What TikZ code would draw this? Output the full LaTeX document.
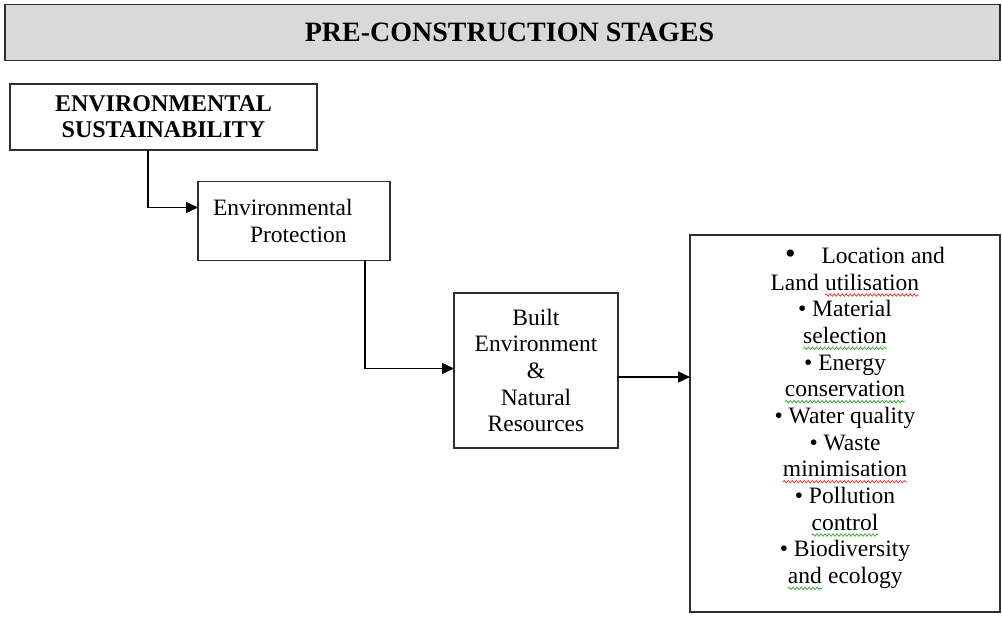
\documentclass[tikz,border=0pt]{standalone}
\usepackage{fontspec}
\setmainfont{Liberation Serif}
\usetikzlibrary{arrows.meta,calc,decorations.pathmorphing}
\definecolor{boxline}{HTML}{2E2E2E}
\definecolor{titlefill}{HTML}{D9D9D9}
\definecolor{spellred}{HTML}{E83C3C}
\definecolor{spellgreen}{HTML}{3CA83C}
\newcommand\wavyword[2]{\tikz[baseline=(wword.base)]{%
  \node[inner sep=0pt, outer sep=0pt] (wword) {#2};
  \draw[#1, line width=0.8pt, decorate, decoration={snake, amplitude=1.2pt, segment length=4pt}]
    ([yshift=-5pt]wword.base west) -- ([yshift=-5pt]wword.base east);}}
\tikzset{
  box/.style={draw=boxline, line width=1.6pt, fill=white, inner sep=0pt, outer sep=0pt},
  titlebox/.style={draw=boxline, line width=1.8pt, fill=titlefill, inner sep=0pt, outer sep=0pt},
  bodytext/.style={font=\fontsize{23.5}{26.6}\selectfont, align=center, inner sep=0pt},
  listtext/.style={font=\fontsize{23.5}{26.67}\selectfont, align=center, inner sep=0pt},
  arr/.style={line width=1.4pt, draw=black, -{Triangle[length=12pt,width=11pt]}},
}
\begin{document}
\begin{tikzpicture}[x=1pt,y=-1pt]
\useasboundingbox (0,0) rectangle (1002,617);
\fill[white] (0,0) rectangle (1002,617);

% title bar
\node[titlebox, minimum width=995pt, minimum height=56pt,
      font=\fontsize{28}{32}\selectfont\bfseries] (title) at (502.5,32.5)
      {\hspace*{14pt}PRE-CONSTRUCTION STAGES};

% boxes
\node[box, minimum width=307pt, minimum height=66pt, align=center,
      font=\fontsize{24}{26}\selectfont\bfseries] (env) at (163.5,117)
      {ENVIRONMENTAL\\SUSTAINABILITY};

\node[box, minimum width=192pt, minimum height=79pt, text width=162pt,
      inner xsep=15pt, align=left, font=\fontsize{23.5}{27}\selectfont] (prot) at (294,221)
      {Environmental\\\hspace*{37pt}Protection};

\node[box, minimum width=164pt, minimum height=155pt, bodytext] (built) at (536,370.5)
      {Built\\Environment\\\&\\Natural\\Resources};

\node[box, minimum width=310pt, minimum height=377pt] (list) at (845,423.5) {};
\node[listtext] (listtxt) at ($(list.center)+(0,-5)$)
      {\hspace*{40pt}{\fontsize{30}{26}\selectfont\textbullet}\hspace*{26pt}Location and\\
       Land \wavyword{spellred}{utilisation}\\
       \textbullet{} Material\\
       \wavyword{spellgreen}{selection}\\
       \textbullet{} Energy\\
       \wavyword{spellgreen}{conservation}\\
       \textbullet{} Water quality\\
       \textbullet{} Waste\\
       \wavyword{spellred}{minimisation}\\
       \textbullet{} Pollution\\
       \wavyword{spellgreen}{control}\\
       \textbullet{} Biodiversity\\
       \wavyword{spellgreen}{and} ecology};

% connectors
\draw[arr] ($(env.south west)+(138,0)$) |- ($(prot.north west)+(0,26)$);
\draw[arr] ($(prot.south west)+(167,0)$) |- ($(built.west)+(0,-2)$);
\draw[arr] ($(built.north east)+(0,84)$) -- ($(list.north west)+(0,142)$);
\end{tikzpicture}
\end{document}
